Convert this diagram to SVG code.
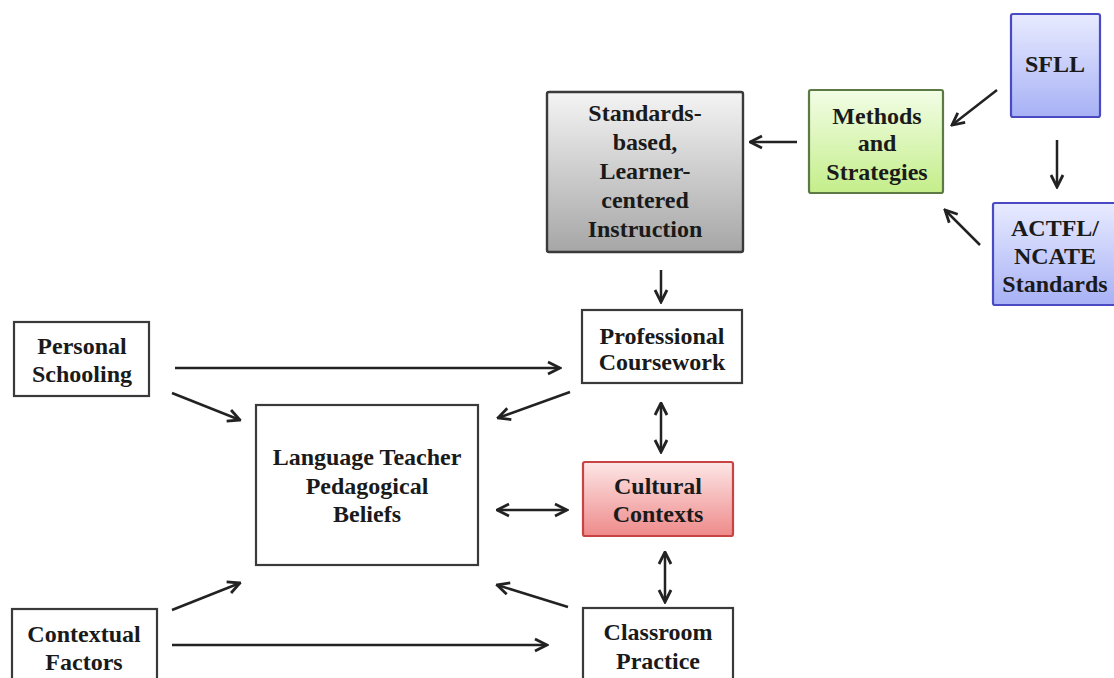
<svg xmlns="http://www.w3.org/2000/svg" width="1114" height="678" viewBox="0 0 1114 678">
<style>
.t{font-family:"Liberation Serif","Times New Roman",serif;font-weight:bold;font-size:24px;fill:#1a1a1a;text-anchor:middle}
.w{fill:#fff;stroke:#3a3a3a;stroke-width:2.2}
.c{fill:none;stroke:#222;stroke-width:2.5}
</style>
<defs>
<linearGradient id="gGray" x1="0" y1="0" x2="0" y2="1"><stop offset="0" stop-color="#f4f4f4"/><stop offset="1" stop-color="#a6a6a6"/></linearGradient>
<linearGradient id="gGreen" x1="0" y1="0" x2="0" y2="1"><stop offset="0" stop-color="#f2fde6"/><stop offset="1" stop-color="#c4ee8a"/></linearGradient>
<linearGradient id="gBlue" x1="0" y1="0" x2="0" y2="1"><stop offset="0" stop-color="#e8ebff"/><stop offset="1" stop-color="#a7b1f5"/></linearGradient>
<linearGradient id="gRed" x1="0" y1="0" x2="0" y2="1"><stop offset="0" stop-color="#fde6e6"/><stop offset="1" stop-color="#ee8a8a"/></linearGradient>
<marker id="ah" viewBox="0 0 16 16" refX="14.5" refY="8" markerWidth="16" markerHeight="16" markerUnits="userSpaceOnUse" orient="auto-start-reverse">
<path d="M2.5,2 L14.5,8 L2.5,14" fill="none" stroke="#222" stroke-width="2.8" stroke-linejoin="miter"/>
</marker>
</defs>
<rect width="1114" height="678" fill="#fff"/>
<g id="connectors">
<line class="c" x1="797" y1="142" x2="750" y2="142" marker-end="url(#ah)"/>
<line class="c" x1="997" y1="90" x2="952" y2="125" marker-end="url(#ah)"/>
<line class="c" x1="980" y1="245" x2="945" y2="210" marker-end="url(#ah)"/>
<line class="c" x1="1057" y1="140" x2="1057" y2="187" marker-end="url(#ah)"/>
<line class="c" x1="661" y1="270" x2="661" y2="302" marker-end="url(#ah)"/>
<line class="c" x1="175" y1="368" x2="560" y2="368" marker-end="url(#ah)"/>
<line class="c" x1="172" y1="393" x2="240" y2="420" marker-end="url(#ah)"/>
<line class="c" x1="570" y1="392" x2="498" y2="418" marker-end="url(#ah)"/>
<line class="c" x1="661" y1="403" x2="661" y2="452" marker-start="url(#ah)" marker-end="url(#ah)"/>
<line class="c" x1="497" y1="510" x2="567" y2="510" marker-start="url(#ah)" marker-end="url(#ah)"/>
<line class="c" x1="665" y1="552" x2="665" y2="602" marker-start="url(#ah)" marker-end="url(#ah)"/>
<line class="c" x1="172" y1="610" x2="240" y2="583" marker-end="url(#ah)"/>
<line class="c" x1="568" y1="607" x2="497" y2="585" marker-end="url(#ah)"/>
<line class="c" x1="172" y1="645" x2="547" y2="645" marker-end="url(#ah)"/>
</g>
<g id="standards">
<rect x="547" y="92" width="196" height="160" rx="2" fill="url(#gGray)" stroke="#3a3a3a" stroke-width="2.4"/>
<text class="t" x="645" y="121">Standards-</text>
<text class="t" x="645" y="150">based,</text>
<text class="t" x="645" y="179">Learner-</text>
<text class="t" x="645" y="208">centered</text>
<text class="t" x="645" y="237">Instruction</text>
</g>
<g id="methods">
<rect x="809" y="90" width="134" height="103" rx="2" fill="url(#gGreen)" stroke="#5d7a45" stroke-width="2.2"/>
<text class="t" x="877" y="124">Methods</text>
<text class="t" x="877" y="151">and</text>
<text class="t" x="877" y="180">Strategies</text>
</g>
<g id="sfll">
<rect x="1011" y="14" width="89" height="103" rx="2" fill="url(#gBlue)" stroke="#4a4ac4" stroke-width="2.2"/>
<text class="t" x="1055" y="72">SFLL</text>
</g>
<g id="actfl">
<rect x="993" y="203" width="130" height="102" rx="2" fill="url(#gBlue)" stroke="#4a4ac4" stroke-width="2.2"/>
<text class="t" x="1055" y="236">ACTFL/</text>
<text class="t" x="1055" y="264">NCATE</text>
<text class="t" x="1055" y="292">Standards</text>
</g>
<g id="professional">
<rect class="w" x="582" y="310" width="160" height="73"/>
<text class="t" x="662" y="344">Professional</text>
<text class="t" x="662" y="370">Coursework</text>
</g>
<g id="personal">
<rect class="w" x="14" y="322" width="135" height="74"/>
<text class="t" x="82" y="354">Personal</text>
<text class="t" x="82" y="382">Schooling</text>
</g>
<g id="beliefs">
<rect class="w" x="256" y="405" width="222" height="160"/>
<text class="t" x="367" y="465">Language Teacher</text>
<text class="t" x="367" y="494">Pedagogical</text>
<text class="t" x="367" y="522">Beliefs</text>
</g>
<g id="cultural">
<rect x="583" y="462" width="150" height="74" rx="2" fill="url(#gRed)" stroke="#c84444" stroke-width="2.2"/>
<text class="t" x="658" y="494">Cultural</text>
<text class="t" x="658" y="522">Contexts</text>
</g>
<g id="contextual">
<rect class="w" x="12" y="609" width="145" height="80"/>
<text class="t" x="84" y="642">Contextual</text>
<text class="t" x="84" y="670">Factors</text>
</g>
<g id="classroom">
<rect class="w" x="583" y="608" width="150" height="80"/>
<text class="t" x="658" y="640">Classroom</text>
<text class="t" x="658" y="669">Practice</text>
</g>
</svg>
